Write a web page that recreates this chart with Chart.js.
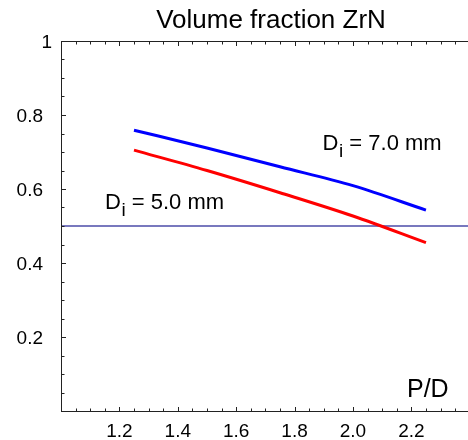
<!DOCTYPE html>
<html>
<head>
<meta charset="utf-8">
<script src="https://cdn.jsdelivr.net/npm/chart.js@4/dist/chart.umd.min.js"></script>
<style>
html,body{margin:0;padding:0;background:#fff;}
#wrap{width:468px;height:440px;}
</style>
</head>
<body>
<div id="wrap"><canvas id="c" width="468" height="440"></canvas></div>
<script>
// ---- data ----
const pdValues = [1.25, 1.5, 1.75, 2.0, 2.25];
const fracDi7 = [0.759, 0.711, 0.660, 0.609, 0.543];
const fracDi5 = [0.705, 0.650, 0.590, 0.527, 0.455];
const refLevel = 0.5;
const xTickValues = [1.2, 1.4, 1.6, 1.8, 2.0, 2.2];
const xTickLabels = ['1.2', '1.4', '1.6', '1.8', '2.0', '2.2'];
const yTickValues = [0.2, 0.4, 0.6, 0.8, 1];
const yTickLabels = ['0.2', '0.4', '0.6', '0.8', '1'];
const titleText = 'Volume fraction ZrN';
const xAxisTitle = 'P/D';
const seriesLabels = ['7.0 mm', '5.0 mm'];

const X_MIN = 1.0, X_MAX = 2.394, Y_MIN = 0, Y_MAX = 1;
const FONT = '"Liberation Sans", Arial, Helvetica, sans-serif';

const toPts = (xs, ys) => xs.map((x, i) => ({x: x, y: ys[i]}));

const framePlugin = {
  id: 'frame',
  afterDraw(chart) {
    const ctx = chart.ctx;
    const xs = chart.scales.x, ys = chart.scales.y;
    const a = chart.chartArea;
    ctx.save();
    ctx.strokeStyle = '#222';
    ctx.lineWidth = 1;
    // axis lines
    ctx.beginPath();
    ctx.moveTo(a.left + 0.5, a.top);
    ctx.lineTo(a.left + 0.5, a.bottom + 0.5);
    ctx.moveTo(a.left, a.bottom + 0.5);
    ctx.lineTo(a.right, a.bottom + 0.5);
    ctx.moveTo(a.left, a.top + 0.5);
    ctx.lineTo(a.right, a.top + 0.5);
    ctx.stroke();
    // ticks every 0.05
    ctx.beginPath();
    for (let k = 1; k < 20; k++) {
      const v = k * 0.05;
      const major = (k % 4 === 0);
      const len = major ? 4 : 2.5;
      const py = Math.round(ys.getPixelForValue(v)) + 0.5;
      ctx.moveTo(a.left, py);
      ctx.lineTo(a.left + 1 + len, py);
    }
    for (let k = 1; k < 28; k++) {
      const v = 1 + k * 0.05;
      if (v > X_MAX) break;
      const major = (k % 4 === 0);
      const len = major ? 4 : 2.5;
      const px = Math.round(xs.getPixelForValue(v)) + 0.5;
      ctx.moveTo(px, a.bottom);
      ctx.lineTo(px, a.bottom - len);
      ctx.moveTo(px, a.top);
      ctx.lineTo(px, a.top + 1 + len);
    }
    ctx.stroke();

    ctx.fillStyle = '#000';
    // y tick labels
    ctx.font = '19px ' + FONT;
    ctx.textBaseline = 'middle';
    ctx.textAlign = 'right';
    yTickValues.forEach((v, i) => {
      const py = ys.getPixelForValue(v) + 2;
      const rx = (v === 1) ? a.left - 9 : a.left - 18;
      ctx.fillText(yTickLabels[i], rx, py);
    });
    // x tick labels
    ctx.textAlign = 'center';
    ctx.textBaseline = 'alphabetic';
    xTickValues.forEach((v, i) => {
      ctx.fillText(xTickLabels[i], xs.getPixelForValue(v), a.bottom + 26);
    });
    // title
    ctx.font = '26px ' + FONT;
    ctx.textAlign = 'center';
    ctx.fillText(titleText, 271, 28);
    // x axis title
    ctx.font = '25px ' + FONT;
    ctx.textAlign = 'left';
    ctx.fillText(xAxisTitle, 407, 397);
    // series labels D_i = ...
    const drawDi = (txt, x, y) => {
      ctx.textAlign = 'left';
      ctx.font = '22px ' + FONT;
      ctx.fillText('D', x, y);
      let w = ctx.measureText('D').width;
      ctx.font = '19px ' + FONT;
      ctx.fillText('i', x + w + 0.5, y + 7);
      w += ctx.measureText('i').width + 0.5;
      ctx.font = '22px ' + FONT;
      ctx.fillText(' = ' + txt, x + w, y);
    };
    drawDi(seriesLabels[0], xs.getPixelForValue(1.896), ys.getPixelForValue(0.705));
    drawDi(seriesLabels[1], xs.getPixelForValue(1.151), ys.getPixelForValue(0.546));
    ctx.restore();
  }
};

new Chart(document.getElementById('c'), {
  type: 'scatter',
  data: {
    datasets: [
      {
        label: 'ref',
        data: [{x: X_MIN, y: refLevel}, {x: X_MAX, y: refLevel}],
        showLine: true, borderColor: '#4b4ba8', borderWidth: 1.3,
        pointRadius: 0, order: 3
      },
      {
        label: 'Di = 7.0 mm',
        data: toPts(pdValues, fracDi7),
        showLine: true, borderColor: '#0000ff', borderWidth: 3,
        pointRadius: 0, cubicInterpolationMode: 'monotone', order: 1
      },
      {
        label: 'Di = 5.0 mm',
        data: toPts(pdValues, fracDi5),
        showLine: true, borderColor: '#ff0000', borderWidth: 3,
        pointRadius: 0, cubicInterpolationMode: 'monotone', order: 2
      }
    ]
  },
  options: {
    responsive: false,
    animation: false,
    devicePixelRatio: 1,
    layout: {padding: {left: 61, top: 41, right: 0, bottom: 29}},
    plugins: {legend: {display: false}, tooltip: {enabled: false}, title: {display: false}},
    scales: {
      x: {type: 'linear', display: false, min: X_MIN, max: X_MAX,
          ticks: {display: false}, grid: {display: false}, border: {display: false}},
      y: {type: 'linear', display: false, min: Y_MIN, max: Y_MAX,
          ticks: {display: false}, grid: {display: false}, border: {display: false}}
    }
  },
  plugins: [framePlugin]
});
</script>
</body>
</html>
